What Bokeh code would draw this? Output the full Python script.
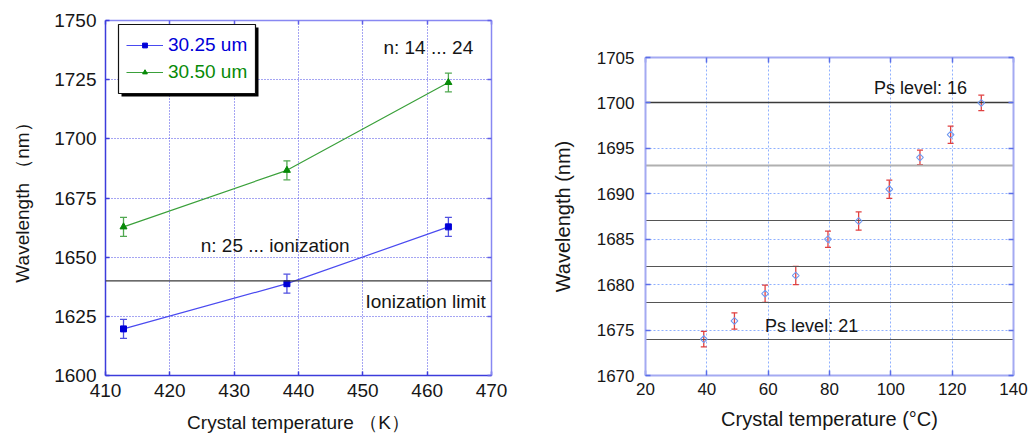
from bokeh.plotting import figure
from bokeh.models import (ColumnDataSource, Whisker, TeeHead, Span, Label, Legend,
                          LegendItem, LinearAxis, FixedTicker, Range1d, Spacer,
                          BoxAnnotation)
from bokeh.layouts import row, column
from bokeh.embed import file_html
from bokeh.resources import INLINE

# ---- left panel: wavelength vs crystal temperature (K) ----
temp_k = [412.8, 438.2, 463.3]
wl_3025 = [1619.7, 1638.8, 1662.8]
err_3025 = [4.0, 4.0, 4.0]
wl_3050 = [1662.8, 1686.7, 1723.8]
err_3050 = [4.0, 4.0, 4.0]
ionization_limit = 1640
left_xticks = [410, 420, 430, 440, 450, 460, 470]
left_yticks = [1600, 1625, 1650, 1675, 1700, 1725, 1750]

# ---- right panel: wavelength vs crystal temperature (°C) ----
temp_c = [39.0, 49.0, 59.0, 69.0, 79.5, 89.5, 99.5, 109.5, 119.5, 129.5]
wl_c = [1674.0, 1676.0, 1679.0, 1681.0, 1685.0, 1687.0, 1690.5, 1694.0, 1696.5, 1700.0]
err_c = [0.85, 0.9, 0.95, 1.0, 0.9, 1.0, 1.0, 0.8, 0.95, 0.85]
ps_levels = [16, 17, 18, 19, 20, 21]
ps_wavelength = [1700.0, 1693.1, 1687.1, 1682.05, 1678.0, 1674.0]
right_xticks = [20, 40, 60, 80, 100, 120, 140]
right_yticks = [1670, 1675, 1680, 1685, 1690, 1695, 1700, 1705]

FONT = "Liberation Sans"
TXT = "#161616"


def style_axis(ax, line_color, tick_color, font_size, tick_len=4, width=1.5):
    ax.axis_line_color = line_color
    ax.axis_line_width = width
    ax.major_tick_line_color = tick_color
    ax.major_tick_line_width = 1.5
    ax.major_tick_in = tick_len
    ax.major_tick_out = 0
    ax.minor_tick_line_color = None
    ax.major_label_text_font = FONT
    ax.major_label_text_font_size = font_size
    ax.major_label_text_color = TXT
    ax.axis_label_text_font = FONT
    ax.axis_label_text_font_style = "normal"
    ax.axis_label_text_color = TXT


def mirror_axis(p, side, ticks, line_color, tick_color, tick_len=4, width=1.5):
    # tick marks only on the opposite side of the frame
    ax = LinearAxis(ticker=FixedTicker(ticks=ticks))
    style_axis(ax, line_color, tick_color, "1px", tick_len, width)
    ax.major_label_overrides = {t: "" for t in ticks}
    ax.major_label_standoff = 0
    p.add_layout(ax, side)


# ================= left figure =================
p1 = figure(frame_width=386, frame_height=355,
            min_border_left=105, min_border_right=29,
            min_border_top=20, min_border_bottom=67,
            x_range=Range1d(410, 470), y_range=Range1d(1600, 1750),
            output_backend="svg", toolbar_location=None)
p1.outline_line_color = None
p1.background_fill_color = "white"

p1.xaxis.ticker = FixedTicker(ticks=left_xticks)
p1.yaxis.ticker = FixedTicker(ticks=left_yticks)
style_axis(p1.xaxis[0], "#3c3cdc", "#3c3cdc", "19px")
style_axis(p1.yaxis[0], "#3c3cdc", "#3c3cdc", "19px")
p1.xaxis.axis_label = "Crystal temperature （K）"
p1.yaxis.axis_label = "Wavelength （nm）"
p1.xaxis.axis_label_text_font_size = "19px"
p1.yaxis.axis_label_text_font_size = "19px"
p1.xaxis.major_label_standoff = 8
p1.yaxis.major_label_standoff = 9
p1.xaxis.axis_label_standoff = 12
p1.yaxis.axis_label_standoff = 18
mirror_axis(p1, "right", left_yticks, "#8888f2", "#6060e8")
mirror_axis(p1, "above", left_xticks, "#8888f2", "#6060e8")

p1.grid.grid_line_color = "#4a4ae6"
p1.grid.grid_line_dash = "1 2"
p1.grid.grid_line_width = 1

p1.add_layout(Span(location=ionization_limit, dimension="width",
                   line_color="#3a3a3a", line_width=1.2))

src_a = ColumnDataSource(dict(x=temp_k, y=wl_3025,
                              lo=[v - e for v, e in zip(wl_3025, err_3025)],
                              hi=[v + e for v, e in zip(wl_3025, err_3025)]))
src_b = ColumnDataSource(dict(x=temp_k, y=wl_3050,
                              lo=[v - e for v, e in zip(wl_3050, err_3050)],
                              hi=[v + e for v, e in zip(wl_3050, err_3050)]))

BLUE_LINE, BLUE_MARK = "#4a4af0", "#0000d8"
GREEN_LINE, GREEN_MARK = "#3aa03a", "#078a07"

la = p1.line("x", "y", source=src_a, line_color=BLUE_LINE, line_width=1.2)
lb = p1.line("x", "y", source=src_b, line_color=GREEN_LINE, line_width=1.2)
for src, col in ((src_a, "#5050e0"), (src_b, "#50a850")):
    p1.add_layout(Whisker(base="x", upper="hi", lower="lo", source=src,
                          dimension="height", line_color=col, line_width=1.3,
                          upper_head=TeeHead(size=7, line_color=col, line_width=1.3),
                          lower_head=TeeHead(size=7, line_color=col, line_width=1.3)))
ma = p1.scatter("x", "y", source=src_a, marker="square", size=6,
                fill_color=BLUE_MARK, line_color=BLUE_MARK)
mb = p1.scatter("x", "y", source=src_b, marker="triangle", size=7,
                fill_color=GREEN_MARK, line_color=GREEN_MARK)

for txt, x, y in (("n: 14 ... 24", 453.2, 1738.6),
                  ("n: 25 ... ionization", 424.8, 1655.0),
                  ("Ionization limit", 450.4, 1631.3)):
    p1.add_layout(Label(x=x, y=y, text=txt, text_baseline="middle",
                        text_font=FONT, text_font_size="19px", text_color=TXT))

# legend frame with drop shadow (frame-relative pixels), then one legend per row
SCREEN = dict(left_units="screen", right_units="screen",
              top_units="screen", bottom_units="screen")
p1.add_layout(BoxAnnotation(left=16, right=16 + 137, bottom=279, top=279 + 69,
                            fill_color="black", fill_alpha=1, line_alpha=0, **SCREEN))
p1.add_layout(BoxAnnotation(left=13, right=13 + 137, bottom=282, top=282 + 69,
                            fill_color="white", fill_alpha=1,
                            line_color="#111111", line_width=1.2, line_alpha=1, **SCREEN))

LEG = dict(glyph_width=37, glyph_height=12, label_height=26, spacing=0,
           label_standoff=5, label_text_font=FONT, label_text_font_size="19px",
           margin=0, padding=8, background_fill_alpha=0, border_line_alpha=0)
p1.add_layout(Legend(items=[LegendItem(label="30.25 um", renderers=[la, ma])],
                     location=(13, 309), label_text_color=BLUE_MARK, **LEG))
p1.add_layout(Legend(items=[LegendItem(label="30.50 um", renderers=[lb, mb])],
                     location=(13, 282), label_text_color=GREEN_MARK, **LEG))

# ================= right figure =================
p2 = figure(frame_width=368, frame_height=318,
            min_border_left=125, min_border_right=21,
            min_border_top=20, min_border_bottom=67,
            x_range=Range1d(20, 140), y_range=Range1d(1670, 1705),
            output_backend="svg", toolbar_location=None)
p2.outline_line_color = None
p2.xaxis.ticker = FixedTicker(ticks=right_xticks)
p2.yaxis.ticker = FixedTicker(ticks=right_yticks)
style_axis(p2.xaxis[0], "#a4aaf2", "#5a6ee8", "17px", 5, 2)
style_axis(p2.yaxis[0], "#a4aaf2", "#5a6ee8", "17px", 5, 2)
p2.xaxis.axis_label = "Crystal temperature (°C)"
p2.yaxis.axis_label = "Wavelength (nm)"
p2.xaxis.axis_label_text_font_size = "20px"
p2.yaxis.axis_label_text_font_size = "20px"
p2.xaxis.major_label_standoff = 7
p2.yaxis.major_label_standoff = 11
p2.xaxis.axis_label_standoff = 10
p2.yaxis.axis_label_standoff = 20
mirror_axis(p2, "right", right_yticks, "#a4aaf2", "#5a6ee8", 5, 2)
mirror_axis(p2, "above", right_xticks, "#a4aaf2", "#5a6ee8", 5, 2)

p2.grid.grid_line_color = "#8fb0ff"
p2.grid.grid_line_dash = "2 2"
p2.grid.grid_line_width = 1

# Ps level lines (level 17 drawn lighter, as in the original figure)
level_colors = ["#3a3a3a", "#b0b0b0", "#555555", "#555555", "#555555", "#555555"]
level_widths = [1.4, 2.0, 1.2, 1.2, 1.2, 1.2]
lvl_src = ColumnDataSource(dict(y=ps_wavelength, level=ps_levels,
                                color=level_colors, width=level_widths))
p2.hspan(y="y", source=lvl_src, line_color="color", line_width="width")

src_c = ColumnDataSource(dict(x=temp_c, y=wl_c,
                              lo=[v - e for v, e in zip(wl_c, err_c)],
                              hi=[v + e for v, e in zip(wl_c, err_c)]))
RED = "#e04040"
p2.add_layout(Whisker(base="x", upper="hi", lower="lo", source=src_c,
                      dimension="height", line_color=RED, line_width=1.3,
                      upper_head=TeeHead(size=6, line_color=RED, line_width=1.3),
                      lower_head=TeeHead(size=6, line_color=RED, line_width=1.3)))
p2.scatter("x", "y", source=src_c, marker="square", angle=0.785398, size=4.8,
           fill_alpha=0, line_color="#6f98f0", line_width=1.1)

for txt, x, y in (("Ps level: 16", 94.5, 1701.6), ("Ps level: 21", 59.0, 1675.5)):
    p2.add_layout(Label(x=x, y=y, text=txt, text_baseline="middle",
                        text_font=FONT, text_font_size="18px", text_color=TXT))

layout = row(p1, column(Spacer(width=514, height=37), p2))
with open("out.html", "w") as f:
    f.write(file_html(layout, INLINE))
